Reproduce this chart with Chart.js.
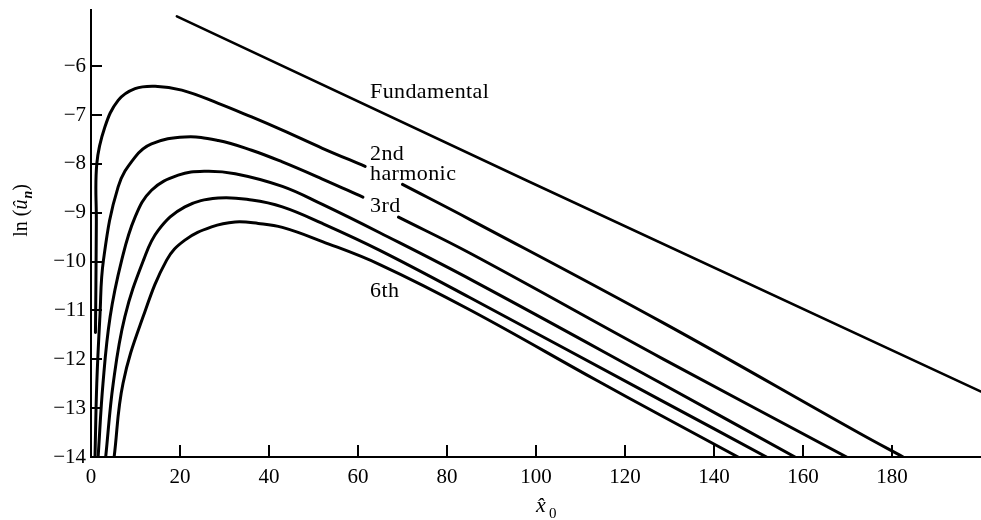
<!DOCTYPE html>
<html>
<head>
<meta charset="utf-8">
<script src="https://cdn.jsdelivr.net/npm/chart.js@4.4.1/dist/chart.umd.min.js"></script>
<style>
  html, body { margin: 0; padding: 0; background: #fff; }
  #wrap { width: 981px; height: 520px; }
</style>
</head>
<body>
<div id="wrap"><canvas id="chart" width="981" height="520"></canvas></div>
<script>
// === Values ===
const xTicks = [0, 20, 40, 60, 80, 100, 120, 140, 160, 180];
const yTicks = [-6, -7, -8, -9, -10, -11, -12, -13, -14];

// fundamental: straight line
const fundX = [19.3, 97.9, 200];
const fundY = [-4.98, -8.34, -12.66];

// harmonics (null = break where the label sits)
const secondX = [1.0, 1.1, 1.2, 1.3, 3.1, 6.1, 9.9, 14.4, 20.4, 28.6, 36.1, 43.0, 52.0, 61.6, 65.8, 70.0, 85.2, 128.5, 172.8, 182.5];
const secondY = [-11.45, -10.5, -9.2, -8.0, -7.25, -6.70, -6.46, -6.41, -6.49, -6.76, -7.04, -7.31, -7.68, -8.05, null, -8.42, -9.14, -11.25, -13.52, -14];

const thirdX = [0.9, 1.3, 2.0, 2.8, 6.1, 9.9, 13.6, 21.1, 28.6, 36.1, 43.0, 52.0, 61.1, 65.1, 69.1, 85.2, 128.5, 169.8];
const thirdY = [-14, -12.49, -11.13, -9.97, -8.47, -7.86, -7.59, -7.45, -7.52, -7.72, -7.96, -8.31, -8.68, null, -9.09, -9.83, -11.99, -14];

const fourthX = [1.6, 2.7, 4.3, 6.9, 9.9, 13.6, 19.6, 25.6, 32.4, 43.0, 52.0, 64.9, 86.0, 127.5, 158.2];
const fourthY = [-14, -12.49, -11.13, -9.97, -9.09, -8.54, -8.23, -8.15, -8.20, -8.46, -8.83, -9.41, -10.40, -12.46, -14];

const fifthX = [3.3, 5.0, 7.6, 11.8, 15.1, 21.1, 28.6, 36.1, 43.0, 52.0, 64.9, 85.0, 127.9, 151.8];
const fifthY = [-14, -12.49, -11.13, -9.97, -9.36, -8.88, -8.70, -8.74, -8.88, -9.22, -9.77, -10.73, -12.83, -14];

const sixthX = [5.2, 7.2, 11.7, 17.0, 21.1, 27.1, 32.4, 37.6, 43.0, 52.0, 64.9, 85.2, 113.6, 127.9, 145.4];
const sixthY = [-14, -12.49, -11.13, -9.97, -9.56, -9.29, -9.19, -9.22, -9.30, -9.59, -10.06, -10.99, -12.43, -13.14, -14];

// curve labels (data coords: left edge x, baseline y)
const labelTexts = ['Fundamental', '2nd', 'harmonic', '3rd', '6th'];
const labelX = 62.7;
const labelY = [-6.66, -7.93, -8.34, -8.99, -10.73];

const serif = '"Liberation Serif", "DejaVu Serif", serif';

function pts(xs, ys) {
  return xs.map((x, i) => ({ x: x, y: ys[i] }));
}

function curve(xs, ys, width, tension) {
  return {
    data: pts(xs, ys),
    showLine: true,
    borderColor: '#000',
    borderWidth: width,
    borderCapStyle: 'round',
    borderJoinStyle: 'round',
    pointRadius: 0,
    pointHoverRadius: 0,
    tension: tension,
    spanGaps: false
  };
}

// inward ticks, curve labels and axis titles
const decorations = {
  id: 'decorations',
  afterDraw(chart) {
    const ctx = chart.ctx;
    const xs = chart.scales.x, ys = chart.scales.y;
    const area = chart.chartArea;
    ctx.save();
    ctx.strokeStyle = '#000';
    ctx.lineWidth = 2;
    ctx.beginPath();
    xTicks.forEach(v => {
      const px = Math.round(xs.getPixelForValue(v));
      ctx.moveTo(px, area.bottom);
      ctx.lineTo(px, area.bottom - 12);
    });
    yTicks.forEach(v => {
      const py = Math.round(ys.getPixelForValue(v));
      ctx.moveTo(area.left, py);
      ctx.lineTo(area.left + 11, py);
    });
    ctx.stroke();

    ctx.fillStyle = '#000';
    ctx.font = '22px ' + serif;
    ctx.letterSpacing = '0.4px';
    ctx.textAlign = 'left';
    ctx.textBaseline = 'alphabetic';
    labelTexts.forEach((t, i) => {
      ctx.fillText(t, xs.getPixelForValue(labelX), ys.getPixelForValue(labelY[i]));
    });
    ctx.letterSpacing = '0px';

    // y title: ln (û_n), rotated
    const parts = [
      { t: 'ln (', f: '20px ' + serif, dy: 0 },
      { t: 'û', f: 'italic 20px ' + serif, dy: 0 },
      { t: 'n', f: 'italic bold 14px ' + serif, dy: 5 },
      { t: ')', f: '20px ' + serif, dy: 0 }
    ];
    let total = 0;
    parts.forEach(p => { ctx.font = p.f; p.w = ctx.measureText(p.t).width; total += p.w; });
    ctx.translate(27, 211);
    ctx.rotate(-Math.PI / 2);
    let cx = -total / 2;
    parts.forEach(p => {
      ctx.font = p.f;
      ctx.fillText(p.t, cx, p.dy);
      cx += p.w + (p.t === 'û' ? 1 : 0);
    });
    ctx.setTransform(1, 0, 0, 1, 0, 0);

    // x title: x̂0
    ctx.font = 'italic 22px ' + serif;
    ctx.fillText('x\u0302', 536, 512);
    ctx.font = '15px ' + serif;
    ctx.fillText('0', 549, 518);
    ctx.restore();
  }
};

new Chart(document.getElementById('chart'), {
  type: 'scatter',
  data: {
    datasets: [
      curve(fundX, fundY, 2.5, 0),
      curve(secondX, secondY, 3, 0.4),
      curve(thirdX, thirdY, 3, 0.4),
      curve(fourthX, fourthY, 3, 0.4),
      curve(fifthX, fifthY, 3, 0.4),
      curve(sixthX, sixthY, 3, 0.4)
    ]
  },
  options: {
    responsive: false,
    animation: false,
    events: [],
    layout: { padding: { left: 0, top: 10, right: 0, bottom: 0 } },
    plugins: { legend: { display: false }, tooltip: { enabled: false } },
    scales: {
      x: {
        type: 'linear',
        min: 0,
        max: 200,
        afterBuildTicks: s => { s.ticks = xTicks.map(v => ({ value: v })); },
        afterFit: s => { s.height = 63; s.paddingLeft = 0; s.paddingRight = 0; },
        grid: { display: false, drawTicks: false },
        border: { display: true, color: '#000', width: 2 },
        ticks: {
          color: '#000',
          padding: 8,
          maxRotation: 0,
          font: { family: serif, size: 21 }
        }
      },
      y: {
        type: 'linear',
        min: -14,
        max: -4.85,
        afterBuildTicks: s => { s.ticks = yTicks.map(v => ({ value: v })); },
        afterFit: s => { s.width = 91; s.paddingTop = 0; s.paddingBottom = 0; },
        grid: { display: false, drawTicks: false },
        border: { display: true, color: '#000', width: 2 },
        ticks: {
          color: '#000',
          padding: 5,
          font: { family: serif, size: 21 },
          callback: v => String(v).replace('-', '\u2212')
        }
      }
    }
  },
  plugins: [decorations]
});
</script>
</body>
</html>
